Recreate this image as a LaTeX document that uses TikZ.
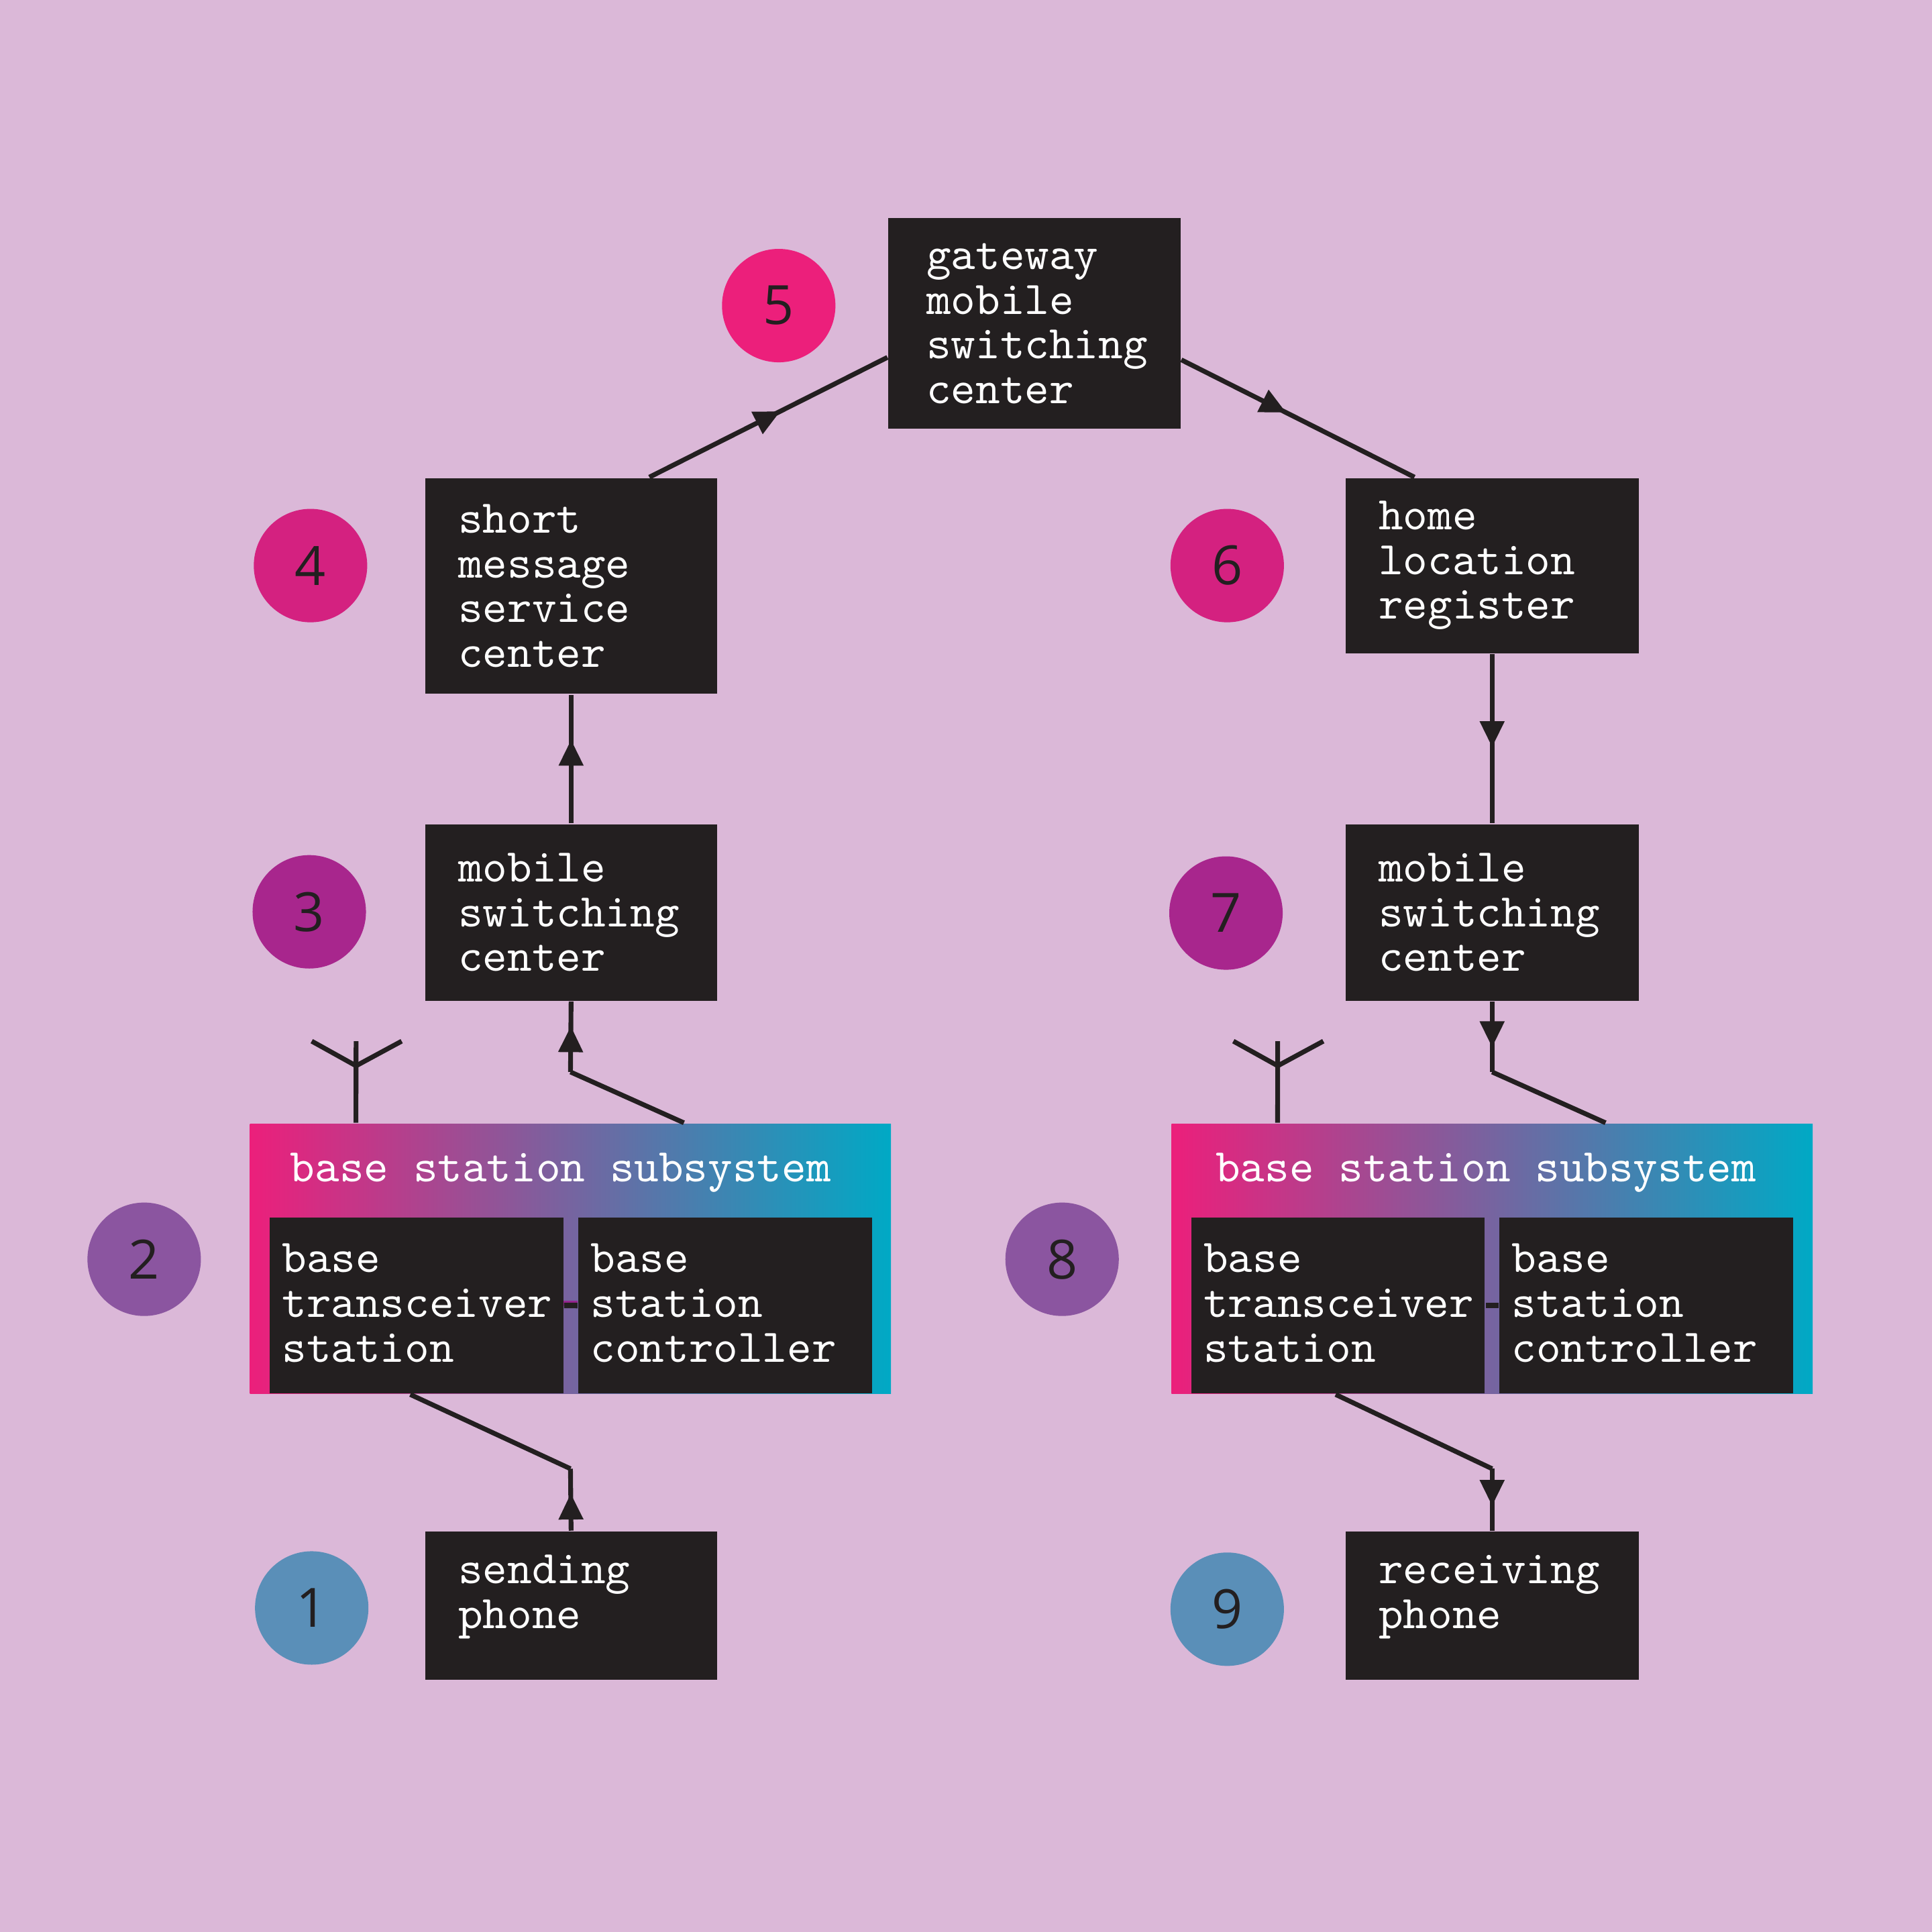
\documentclass[tikz,border=0pt]{standalone}
\usepackage{fontspec}
\newfontfamily\numfont{Open Sans}
\usetikzlibrary{arrows.meta,decorations.markings}
\definecolor{bg}{HTML}{DBB8D8}
\definecolor{boxc}{HTML}{231F20}
\definecolor{pinkc}{HTML}{EC1F7B}
\definecolor{purpc}{HTML}{952590}
\definecolor{cyanc}{HTML}{00A9C5}
\definecolor{c1}{HTML}{5A8FB8}
\definecolor{c2}{HTML}{8B55A0}
\definecolor{c3}{HTML}{A8268D}
\definecolor{c4}{HTML}{D42180}
\definecolor{c5}{HTML}{EC1F7B}
\tikzset{
 box/.style={fill=boxc, inner sep=0, draw=none},
 lbl/.style={text=white, font=\ttfamily\fontsize{10.8}{10.3}\selectfont, align=left, anchor=west, inner sep=0},
 num/.style={circle, minimum size=0.92cm, inner sep=0, font=\numfont\fontsize{12.5}{12.5}\selectfont, text=boxc},
 ln/.style={line width=1.1pt, draw=boxc},
 am/.style={postaction=decorate, decoration={markings, mark=at position #1 with {\arrow{Triangle[length=6pt,width=5.5pt]}}}},
 bss/.style={inner sep=0, minimum width=5.2cm, minimum height=2.19cm, left color=pinkc, middle color=purpc, right color=cyanc},
 sub/.style={box, minimum width=2.38cm, minimum height=1.43cm}
}
\begin{document}
\begin{tikzpicture}[x=0.01cm,y=-0.01cm]
\fill[bg] (0,0) rectangle (1568,1568);
\useasboundingbox (0,0) rectangle (1568,1568);
% boxes
\node[box, minimum width=2.37cm, minimum height=1.71cm] (gw) at (839.5,262.5) {};
\node[lbl] at ([xshift=0.31cm]gw.west) {gateway\\mobile\\switching\\center};
\node[box, minimum width=2.37cm, minimum height=1.75cm] (smsc) at (463.5,475.5) {};
\node[lbl] at ([xshift=0.27cm]smsc.west) {short\\message\\service\\center};
\node[box, minimum width=2.37cm, minimum height=1.43cm] (mscL) at (463.5,740.5) {};
\node[lbl] at ([xshift=0.27cm]mscL.west) {mobile\\switching\\center};
\node[box, minimum width=2.38cm, minimum height=1.42cm] (hlr) at (1211,459) {};
\node[lbl] at ([xshift=0.27cm]hlr.west) {home\\location\\register};
\node[box, minimum width=2.38cm, minimum height=1.43cm] (mscR) at (1211,740.5) {};
\node[lbl] at ([xshift=0.27cm]mscR.west) {mobile\\switching\\center};
\node[box, minimum width=2.37cm, minimum height=1.2cm] (send) at (463.5,1303) {};
\node[lbl] at ([xshift=0.27cm,yshift=0.07cm]send.west) {sending\\phone};
\node[box, minimum width=2.38cm, minimum height=1.2cm] (recv) at (1211,1303) {};
\node[lbl] at ([xshift=0.27cm,yshift=0.07cm]recv.west) {receiving\\phone};
% BSS left
\node[bss] (bssL) at (463,1021.5) {};
\node[lbl] at (235,952) {base station subsystem};
\draw[line width=1.3pt, purpc] (457,1058) -- (469,1058);
\node[sub] (btsL) at (338,1059.5) {};
\node[lbl] at ([xshift=0.1cm,yshift=0.02cm]btsL.west) {base\\transceiver\\station};
\node[sub] (bscL) at (588.5,1059.5) {};
\node[lbl] at ([xshift=0.1cm,yshift=0.02cm]bscL.west) {base\\station\\controller};
\draw[line width=1.3pt, boxc] (btsL.east) ++(0,-0.02) -- (bscL.west);
% BSS right
\node[bss] (bssR) at (1211,1021.5) {};
\node[lbl] at (986,952) {base station subsystem};
\node[sub] (btsR) at (1086,1059.5) {};
\node[lbl] at ([xshift=0.1cm,yshift=0.02cm]btsR.west) {base\\transceiver\\station};
\node[sub] (bscR) at (1336,1059.5) {};
\node[lbl] at ([xshift=0.1cm,yshift=0.02cm]bscR.west) {base\\station\\controller};
\draw[line width=1.3pt, boxc] (btsR.east) -- (bscR.west);
% numbers
\node[num, fill=c1] (n1) at (253,1305) {1};
\node[num, fill=c2] (n2) at (117,1022) {2};
\node[num, fill=c3] (n3) at (251,740) {3};
\node[num, fill=c4] (n4) at (252,459) {4};
\node[num, fill=c5] (n5) at (632,248) {5};
\node[num, fill=c4] (n6) at (996,459) {6};
\node[num, fill=c3] (n7) at (995,741) {7};
\node[num, fill=c2] (n8) at (862,1022) {8};
\node[num, fill=c1] (n9) at (996,1306) {9};
% connectors
\coordinate (a1) at (463,1192);
\draw[ln, am=0.6] (send.north) -- (a1);
\draw[ln] (a1) -- ([xshift=-0.05cm]btsL.south);
\coordinate (a2) at (463,870);
\draw[ln] ([xshift=0.92cm]bssL.north) -- (a2);
\draw[ln, am=0.65] (a2) -- (mscL.south);
\draw[ln, am=0.65] (mscL.north) -- (smsc.south);
\draw[ln, am=0.55] ([xshift=0.635cm]smsc.north) -- ([yshift=-0.275cm]gw.west);
\draw[ln, am=0.45] ([yshift=-0.295cm]gw.east) -- ([xshift=-0.63cm]hlr.north);
\draw[ln, am=0.55] (hlr.south) -- (mscR.north);
\coordinate (a3) at (1211,870);
\draw[ln, am=0.65] (mscR.south) -- (a3);
\draw[ln] (a3) -- ([xshift=0.92cm]bssR.north);
\coordinate (a4) at (1211,1192);
\draw[ln] ([xshift=-0.02cm]btsR.south) -- (a4);
\draw[ln, am=0.6] (a4) -- (recv.north);
% antennas
\coordinate (t1) at (289,865);
\draw[ln] ([xshift=-1.74cm]bssL.north) -- (289,845);
\draw[ln] (253,845) -- (t1) -- (326,845);
\coordinate (t2) at (1037,865);
\draw[ln] ([xshift=-1.74cm]bssR.north) -- (1037,845);
\draw[ln] (1001,845) -- (t2) -- (1074,845);
\end{tikzpicture}
\end{document}
